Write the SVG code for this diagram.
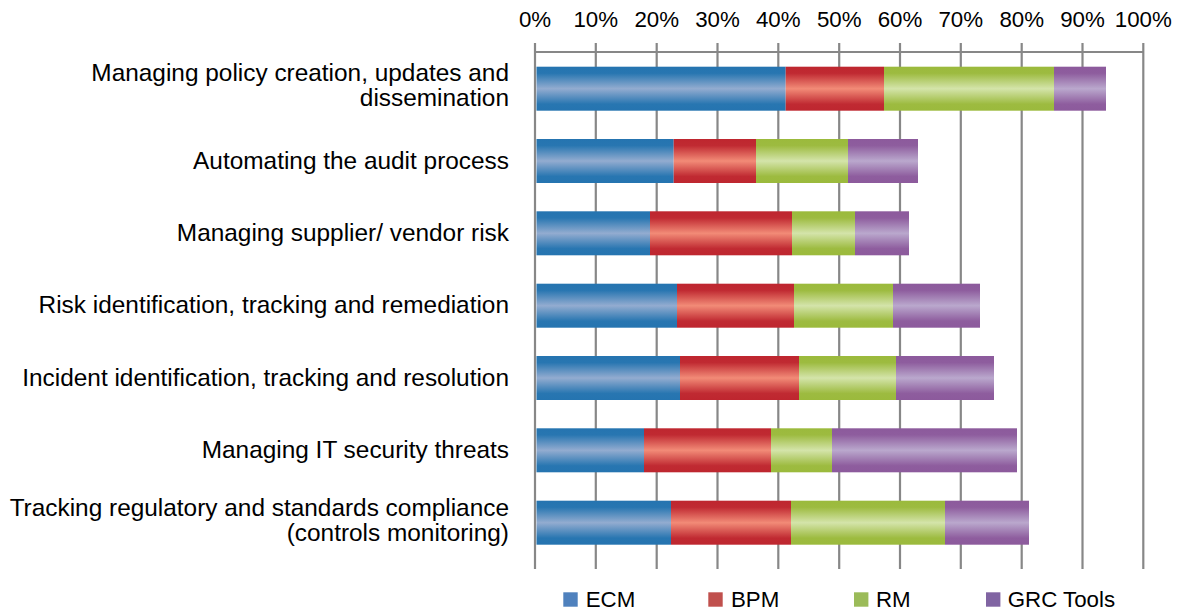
<svg xmlns="http://www.w3.org/2000/svg" width="1179" height="611" viewBox="0 0 1179 611">
<defs>
<linearGradient id="gEcm" x1="0" y1="0" x2="0" y2="1">
<stop offset="0" stop-color="#2574B0"/><stop offset="0.15" stop-color="#2876B1"/><stop offset="0.5" stop-color="#93ACD0"/><stop offset="0.85" stop-color="#2876B1"/><stop offset="1" stop-color="#2574B0"/>
</linearGradient>
<linearGradient id="gBpm" x1="0" y1="0" x2="0" y2="1">
<stop offset="0" stop-color="#BE262F"/><stop offset="0.15" stop-color="#C02A32"/><stop offset="0.5" stop-color="#F28B77"/><stop offset="0.85" stop-color="#C02A32"/><stop offset="1" stop-color="#BE262F"/>
</linearGradient>
<linearGradient id="gRm" x1="0" y1="0" x2="0" y2="1">
<stop offset="0" stop-color="#9BBA3C"/><stop offset="0.15" stop-color="#9DBB40"/><stop offset="0.5" stop-color="#D4E4AA"/><stop offset="0.85" stop-color="#9DBB40"/><stop offset="1" stop-color="#9BBA3C"/>
</linearGradient>
<linearGradient id="gGrc" x1="0" y1="0" x2="0" y2="1">
<stop offset="0" stop-color="#8C5A9C"/><stop offset="0.15" stop-color="#8E5D9E"/><stop offset="0.5" stop-color="#BAA8CD"/><stop offset="0.85" stop-color="#8E5D9E"/><stop offset="1" stop-color="#8C5A9C"/>
</linearGradient>
</defs>
<style>
text{font-family:"Liberation Sans",Arial,sans-serif;font-size:22.3px;fill:#000}
.cat{text-anchor:end;font-size:24.4px}
.tick{text-anchor:middle}
.grid line{stroke:#878787;stroke-width:2.2}
.ecm{fill:url(#gEcm)}.bpm{fill:url(#gBpm)}.rm{fill:url(#gRm)}.grc{fill:url(#gGrc)}
</style>
<rect width="1179" height="611" fill="#fff"/>
<g id="axis" class="grid">
<line x1="535" y1="43" x2="535" y2="569"/>
<line x1="595.8" y1="43" x2="595.8" y2="569"/>
<line x1="656.7" y1="43" x2="656.7" y2="569"/>
<line x1="717.5" y1="43" x2="717.5" y2="569"/>
<line x1="778.3" y1="43" x2="778.3" y2="569"/>
<line x1="839.2" y1="43" x2="839.2" y2="569"/>
<line x1="900" y1="43" x2="900" y2="569"/>
<line x1="960.8" y1="43" x2="960.8" y2="569"/>
<line x1="1021.7" y1="43" x2="1021.7" y2="569"/>
<line x1="1082.5" y1="43" x2="1082.5" y2="569"/>
<line x1="1143.3" y1="43" x2="1143.3" y2="569"/>
<line x1="535" y1="52" x2="1143.3" y2="52"/>
</g>
<g id="ticks">
<text class="tick" x="535" y="27">0%</text>
<text class="tick" x="595.8" y="27">10%</text>
<text class="tick" x="656.7" y="27">20%</text>
<text class="tick" x="717.5" y="27">30%</text>
<text class="tick" x="778.3" y="27">40%</text>
<text class="tick" x="839.2" y="27">50%</text>
<text class="tick" x="900" y="27">60%</text>
<text class="tick" x="960.8" y="27">70%</text>
<text class="tick" x="1021.7" y="27">80%</text>
<text class="tick" x="1082.5" y="27">90%</text>
<text class="tick" x="1143.3" y="27">100%</text>
</g>
<g id="bar1">
<rect class="ecm" x="536.5" y="66.7" width="249.2" height="44"/>
<rect class="bpm" x="785.7" y="66.7" width="98.3" height="44"/>
<rect class="rm" x="884" y="66.7" width="170" height="44"/>
<rect class="grc" x="1054" y="66.7" width="52" height="44"/>
<text class="cat" x="509" y="81">Managing policy creation, updates and</text>
<text class="cat" x="509" y="106">dissemination</text>
</g>
<g id="bar2">
<rect class="ecm" x="536.5" y="139" width="137.2" height="44"/>
<rect class="bpm" x="673.7" y="139" width="82.3" height="44"/>
<rect class="rm" x="756" y="139" width="92" height="44"/>
<rect class="grc" x="848" y="139" width="70" height="44"/>
<text class="cat" x="509" y="169">Automating the audit process</text>
</g>
<g id="bar3">
<rect class="ecm" x="536.5" y="211.3" width="113.5" height="44"/>
<rect class="bpm" x="650" y="211.3" width="142" height="44"/>
<rect class="rm" x="792" y="211.3" width="63" height="44"/>
<rect class="grc" x="855" y="211.3" width="54" height="44"/>
<text class="cat" x="509" y="241">Managing supplier/ vendor risk</text>
</g>
<g id="bar4">
<rect class="ecm" x="536.5" y="283.7" width="140.5" height="44"/>
<rect class="bpm" x="677" y="283.7" width="117" height="44"/>
<rect class="rm" x="794" y="283.7" width="99" height="44"/>
<rect class="grc" x="893" y="283.7" width="87" height="44"/>
<text class="cat" x="509" y="313">Risk identification, tracking and remediation</text>
</g>
<g id="bar5">
<rect class="ecm" x="536.5" y="356" width="143.5" height="44"/>
<rect class="bpm" x="680" y="356" width="119" height="44"/>
<rect class="rm" x="799" y="356" width="97" height="44"/>
<rect class="grc" x="896" y="356" width="98" height="44"/>
<text class="cat" x="509" y="386">Incident identification, tracking and resolution</text>
</g>
<g id="bar6">
<rect class="ecm" x="536.5" y="428.3" width="107.5" height="44"/>
<rect class="bpm" x="644" y="428.3" width="127" height="44"/>
<rect class="rm" x="771" y="428.3" width="61" height="44"/>
<rect class="grc" x="832" y="428.3" width="185" height="44"/>
<text class="cat" x="509" y="458">Managing IT security threats</text>
</g>
<g id="bar7">
<rect class="ecm" x="536.5" y="500.7" width="134.5" height="44"/>
<rect class="bpm" x="671" y="500.7" width="120" height="44"/>
<rect class="rm" x="791" y="500.7" width="154" height="44"/>
<rect class="grc" x="945" y="500.7" width="84" height="44"/>
<text class="cat" x="509" y="516">Tracking regulatory and standards compliance</text>
<text class="cat" x="509" y="541">(controls monitoring)</text>
</g>
<g id="legend">
<rect x="563.3" y="592.3" width="14.4" height="14.4" fill="#4F81BD"/>
<text x="585.7" y="606.5">ECM</text>
<rect x="708.3" y="592.3" width="14.4" height="14.4" fill="#C0504D"/>
<text x="731" y="606.5">BPM</text>
<rect x="854" y="592.3" width="14.4" height="14.4" fill="#9BBB59"/>
<text x="876" y="606.5">RM</text>
<rect x="986" y="592.3" width="14.4" height="14.4" fill="#8064A2"/>
<text x="1007.7" y="606.5">GRC Tools</text>
</g>
</svg>
